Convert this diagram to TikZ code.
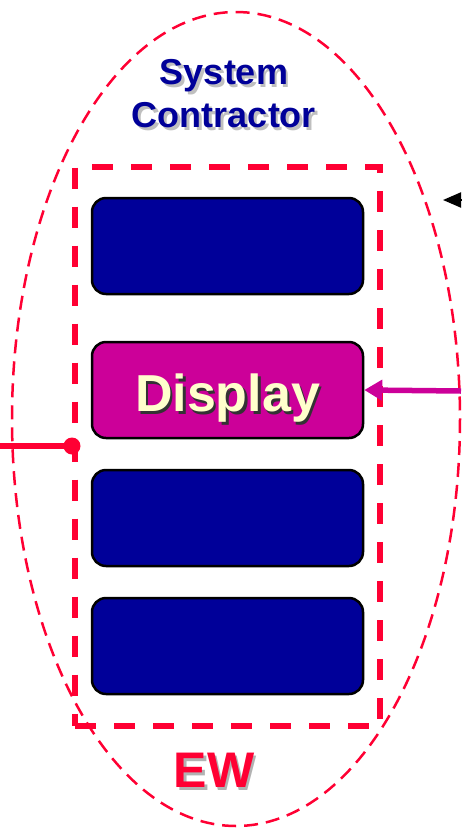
\documentclass[tikz,border=0pt]{standalone}
\usepackage{fontspec}
\setmainfont{Liberation Sans}
\usetikzlibrary{arrows.meta}
\definecolor{navy}{HTML}{000099}
\definecolor{purp}{HTML}{CC0099}
\definecolor{ewred}{HTML}{FF0033}
\definecolor{cream}{HTML}{FFFFCC}
% text with a small drop shadow
\newcommand\shadowed[2]{\makebox[0pt][l]{\hspace{2.5pt}\raisebox{-2.5pt}{\color{#1}#2}}#2}
\tikzset{
	unit/.style={draw=black,line width=2.5pt,rounded corners=14pt,fill=navy,minimum width=271pt,minimum height=96pt,inner sep=0pt},
}
\begin{document}
\begin{tikzpicture}[x=1pt,y=-1pt]
	\useasboundingbox (0,0) rectangle (461,828);
	\draw[ewred,line width=2.5pt,dash pattern=on 14pt off 8pt] (236,419) ellipse [x radius=224, y radius=407];
	\node[text=navy,font=\bfseries\fontsize{36}{43}\selectfont,align=center] (sc) at (224,95) {\shadowed{black!25}{System}\\\shadowed{black!25}{Contractor}};
	\node[draw=ewred,line width=6pt,dash pattern=on 21pt off 18pt,minimum width=305pt,minimum height=559pt] (frame) at (227.5,446) {};
	\node[unit] (u1) at (227.5,246) {};
	\node[unit,fill=purp,text=cream,font=\bfseries\fontsize{52}{60}\selectfont,text height=54pt,text depth=11pt] (disp) at (227.5,390) {\shadowed{black!80}{Display}};
	\foreach \i/\y in {3/518,4/646} {
		\node[unit] (u\i) at (227.5,\y) {};
	}
	\node[text=ewred,font=\bfseries\fontsize{50}{60}\selectfont] (ew) at (214,772) {\shadowed{black!30}{EW}};
	% connectors at the edges
	\coordinate (inR) at (461,391);
	\coordinate (inL) at (0,446);
	\coordinate (topR) at (461,200);
	\coordinate (topT) at (443,200);
	\draw[purp,line width=5.5pt,-{Triangle[length=18pt,width=20pt]}] (inR) -- (disp.east);
	\draw[ewred,line width=5.5pt] (inL) -- (frame.west);
	\fill[ewred] (frame.west) circle (8.5pt);
	\draw[line width=2pt,-{Triangle[length=18pt,width=15pt]}] (topR) -- (topT);
\end{tikzpicture}
\end{document}
